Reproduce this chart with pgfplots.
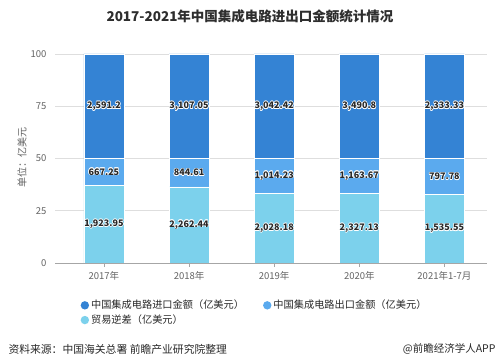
\documentclass[border=0pt]{standalone}
\usepackage{fontspec}
\setmainfont{Noto Sans CJK SC}
\usepackage{pgfplots}
\pgfplotsset{compat=1.18}
\usepackage{pgfplotstable}
\definecolor{imp}{RGB}{52,131,212}
\definecolor{expc}{RGB}{91,170,238}
\definecolor{defc}{RGB}{124,209,236}
\definecolor{gridc}{RGB}{222,222,222}
\definecolor{tickc}{RGB}{100,100,100}
\definecolor{labc}{RGB}{40,40,40}

% percentage shares of the three amounts (sum of the three = 100)
\pgfplotstableread{
x def exp imp
0 37.125 12.875 50.000
1 36.408 13.592 50.000
2 33.332 16.668 50.000
3 33.332 16.668 50.000
4 32.905 17.095 50.000
}\pct

% label positions (segment centres) and label texts
\pgfplotstableread{
x y lab
0 18.56 1,923.95
1 18.20 2,262.44
2 16.67 2,028.18
3 16.67 2,327.13
4 16.45 1,535.55
0 43.56 667.25
1 43.20 844.61
2 41.67 1,014.23
3 41.67 1,163.67
4 41.45 797.78
0 75.00 2,591.2
1 75.00 3,107.05
2 75.00 3,042.42
3 75.00 3,490.8
4 75.00 2,333.33
}\labs

\pgfplotsset{
  halo/.style 2 args={draw=none, mark=none, nodes near coords,
    every node near coord/.style={anchor=center, font=\fontsize{9}{10}\selectfont\bfseries, text=white, xshift=#1, yshift=#2}},
}

\begin{document}
\begin{tikzpicture}
\path[use as bounding box, fill=white] (0,0) rectangle (500pt,363pt);
\begin{axis}[
  at={(55pt,100pt)}, anchor=south west,
  scale only axis, width=432pt, height=209pt,
  ybar stacked, bar width=40pt,
  xmin=-0.575, xmax=4.5, ymin=0, ymax=100,
  xtick={0,1,2,3,4},
  xticklabels={2017年,2018年,2019年,2020年,2021年1-7月},
  ytick={0,25,50,75,100},
  axis x line*=bottom, axis y line*=left,
  y axis line style={draw=none},
  x axis line style={draw=gray!70},
  ymajorgrids, grid style={gridc, line width=0.6pt},
  ytick style={draw=none},
  xtick style={draw=gray!70},
  tick align=outside, major tick length=4pt,
  tick label style={font=\fontsize{9.5}{11}\selectfont, text=tickc},
  /pgf/number format/assume math mode=true,
  yticklabel style={xshift=-1pt},
  xticklabel style={yshift=-1pt},
  legend columns=2,
  legend cell align=left,
  legend style={at={(0.052,-0.158)}, anchor=north west, draw=none,
    font=\fontsize{10.2}{12}\selectfont, text=labc,
    /tikz/every even column/.append style={column sep=17pt},
    row sep=0.5pt},
  legend image code/.code={\fill[#1,draw=none] (0.22cm,0cm) circle (4.2pt);},
  legend entries={中国集成电路进口金额（亿美元）,中国集成电路出口金额（亿美元）,贸易逆差（亿美元）},
]
\addplot[fill=defc, draw=white, line width=0.7pt, forget plot] table[x=x,y=def] {\pct};
\addplot[fill=expc, draw=white, line width=0.7pt, forget plot] table[x=x,y=exp] {\pct};
\addplot[fill=imp, draw=white, line width=0.7pt, forget plot] table[x=x,y=imp] {\pct};
% legend-only entries (order: import, export, deficit)
\addlegendimage{fill=imp}
\addlegendimage{fill=expc}
\addlegendimage{fill=defc}
\end{axis}
\begin{axis}[
  at={(55pt,100pt)}, anchor=south west,
  scale only axis, width=432pt, height=209pt,
  xmin=-0.575, xmax=4.5, ymin=0, ymax=100,
  axis lines=none, clip=false,
  point meta=explicit symbolic,
]
% white halo behind the value labels
\addplot[halo={0.6pt}{0pt}] table[x=x,y=y,meta=lab] {\labs};
\addplot[halo={-0.6pt}{0pt}] table[x=x,y=y,meta=lab] {\labs};
\addplot[halo={0pt}{0.6pt}] table[x=x,y=y,meta=lab] {\labs};
\addplot[halo={0pt}{-0.6pt}] table[x=x,y=y,meta=lab] {\labs};
\addplot[halo={0.45pt}{0.45pt}] table[x=x,y=y,meta=lab] {\labs};
\addplot[halo={-0.45pt}{0.45pt}] table[x=x,y=y,meta=lab] {\labs};
\addplot[halo={0.45pt}{-0.45pt}] table[x=x,y=y,meta=lab] {\labs};
\addplot[halo={-0.45pt}{-0.45pt}] table[x=x,y=y,meta=lab] {\labs};
\addplot[draw=none, mark=none, nodes near coords,
  every node near coord/.style={anchor=center, font=\fontsize{9}{10}\selectfont\bfseries, text=labc}]
  table[x=x,y=y,meta=lab] {\labs};
\end{axis}
\node[font=\fontsize{13.5}{16}\selectfont\bfseries, text=black!82] at (250pt,347pt) {2017-2021年中国集成电路进出口金额统计情况};
\node[rotate=90, font=\fontsize{10}{12}\selectfont, text=tickc] at (22pt,205pt) {单位：亿美元};
\node[anchor=west, font=\fontsize{10.8}{12}\selectfont, text=labc] at (5pt,14pt) {资料来源：中国海关总署 前瞻产业研究院整理};
\node[anchor=east, font=\fontsize{10.5}{12}\selectfont, text=labc] at (499pt,14pt) {@前瞻经济学人APP};
\end{tikzpicture}
\end{document}
